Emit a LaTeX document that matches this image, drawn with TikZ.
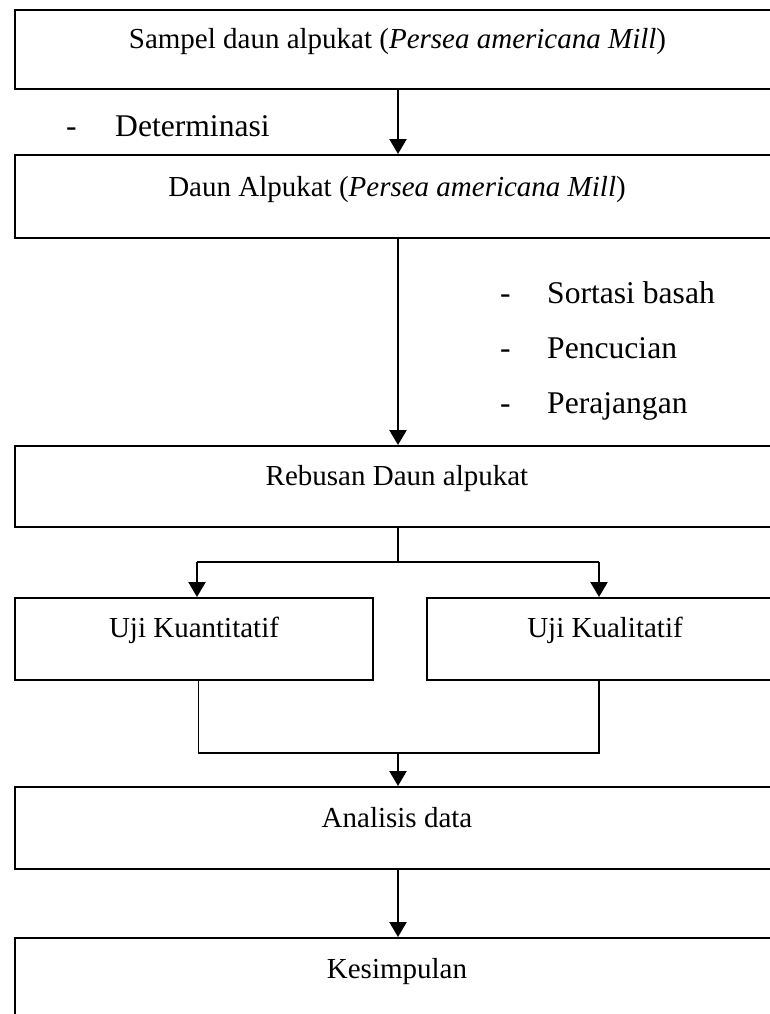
\documentclass[tikz,border=0pt]{standalone}
\usepackage{fontspec}
\setmainfont{Liberation Serif}
\usetikzlibrary{arrows.meta}
\begin{document}
\begin{tikzpicture}[x=1pt,y=-1pt,
  box/.style={draw=black,line width=2pt,rectangle,inner sep=0pt,fill=none},
  lbl/.style={inner sep=0pt,anchor=base,font=\fontsize{29}{34}\selectfont},
  llbl/.style={inner sep=0pt,anchor=base west,font=\fontsize{31.6}{37}\selectfont},
  arr/.style={line width=2.4pt,-{Triangle[length=15pt,width=17pt]}},
  conn/.style={line width=1.6pt}]
\useasboundingbox (0,0) rectangle (769,1014);
% boxes
\node[box,minimum width=766pt,minimum height=79pt] (b1) at (398,49.5) {};
\node[box,minimum width=766pt,minimum height=83pt] (b2) at (398,196.5) {};
\node[box,minimum width=766pt,minimum height=81pt] (b3) at (398,486.5) {};
\node[box,minimum width=357.5pt,minimum height=82pt] (uL) at (193.75,639) {};
\node[box,minimum width=356.5pt,minimum height=82pt] (uR) at (604.75,639) {};
\node[box,minimum width=766pt,minimum height=82pt] (an) at (398,828) {};
\node[box,minimum width=766pt,minimum height=82pt] (ks) at (398,979) {};
% texts
\node[lbl] (t1) at (397.5,49) {Sampel daun alpukat (\textit{Persea americana Mill})};
\node[lbl] (t2) at (397,196) {Daun Alpukat (\textit{Persea americana Mill})};
\node[lbl] (t3) at (397,485) {Rebusan Daun alpukat};
\node[lbl] (t4) at (194,637) {Uji Kuantitatif};
\node[lbl] (t5) at (605,637) {Uji Kualitatif};
\node[lbl] (t6) at (397,827) {Analisis data};
\node[lbl] (t7) at (397,978) {Kesimpulan};
% side notes
\node[llbl] (d0) at (66,136) {-};
\node[llbl] (n0) at (115,136) {Determinasi};
\node[llbl] (d1) at (500,303) {-};
\node[llbl] (n1) at (547,303) {Sortasi basah};
\node[llbl] (d2) at (500,358) {-};
\node[llbl] (n2) at (547,358) {Pencucian};
\node[llbl] (d3) at (500,413) {-};
\node[llbl] (n3) at (547,413) {Perajangan};
% connectors
\coordinate (sl) at (197,562);
\coordinate (sr) at (599,562);
\coordinate (jl) at (198.5,753);
\coordinate (jr) at (599,753);
\coordinate (jm) at (398,753);
\draw[arr] (b1.south) -- (b2.north);
\draw[arr] (b2.south) -- (b3.north);
\draw[conn] (b3.south) -- (b3.south |- sl);
\draw[conn] (sl) -- (sr);
\draw[arr] (sl) -- (sl |- uL.north);
\draw[arr] (sr) -- (sr |- uR.north);
\draw[conn] (jl |- uL.south) -- (jl) -- (jr) -- (jr |- uR.south);
\draw[arr] (jm) -- (an.north);
\draw[arr] (an.south) -- (ks.north);
\end{tikzpicture}
\end{document}
